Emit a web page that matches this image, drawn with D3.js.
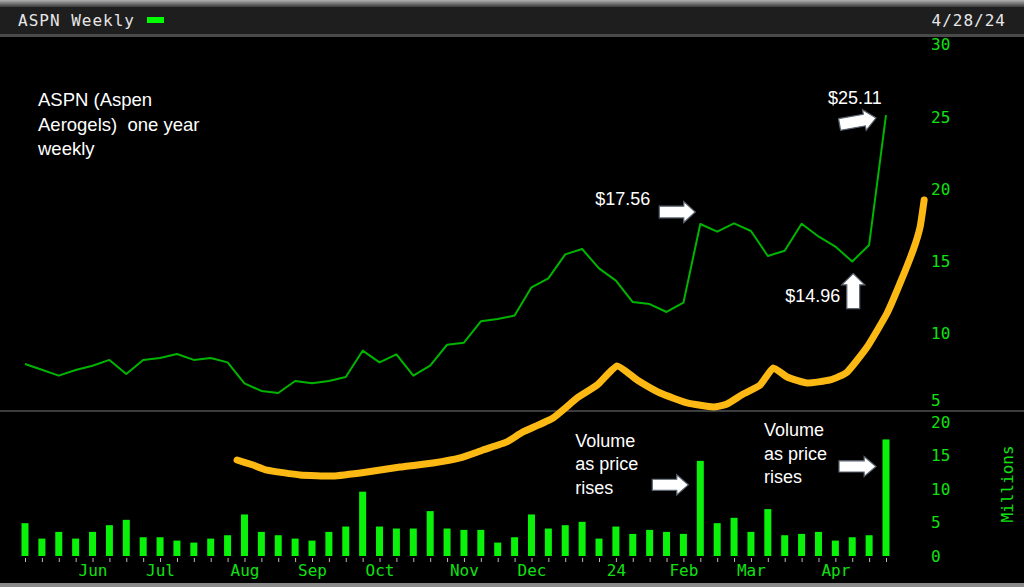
<!DOCTYPE html>
<html><head><meta charset="utf-8">
<script src="https://cdn.jsdelivr.net/npm/d3@7"></script>
<style>
html,body{margin:0;padding:0;background:#000;}
svg{display:block;}
text{white-space:pre;}
</style></head>
<body>
<svg id="chart" width="1024" height="587"></svg>
<script>
// ---- data ----
const weeks = d3.range(1, 53); // 52 weekly bars, index 1..52
const price = [7.87, 7.47, 7.06, 7.45, 7.75, 8.15, 7.17, 8.15, 8.28, 8.56,
  8.15, 8.28, 7.98, 6.53, 6.00, 5.86, 6.69, 6.53, 6.69, 6.97,
  8.79, 7.98, 8.54, 7.06, 7.75, 9.20, 9.34, 10.82, 10.98, 11.22,
  13.18, 13.80, 15.46, 15.83, 14.49, 13.64, 12.16, 12.02, 11.47, 12.11,
  17.56, 17.03, 17.61, 17.08, 15.35, 15.71, 17.58, 16.70, 16.00, 14.96, 16.11, 25.11];
const volume = [4.9, 2.6, 3.6, 2.6, 3.6, 4.6, 5.4, 2.8, 2.8, 2.3,
  2.0, 2.6, 3.1, 6.2, 3.6, 3.1, 2.6, 2.3, 3.6, 4.4,
  9.6, 4.4, 4.1, 4.1, 6.7, 4.1, 3.9, 3.9, 2.0, 2.8,
  6.2, 4.1, 4.6, 5.1, 2.6, 4.4, 3.3, 3.9, 3.6, 3.3,
  14.2, 4.9, 5.7, 3.6, 7.0, 3.1, 3.3, 3.6, 2.3, 2.8, 3.1, 17.4];
const monthLabels = ["Jun", "Jul", "Aug", "Sep", "Oct", "Nov", "Dec", "24", "Feb", "Mar", "Apr"];
const monthWeeks = [5, 9, 14, 18, 22, 27, 31, 36, 40, 44, 49];
const priceTicks = [5, 10, 15, 20, 25, 30];
const volumeTicks = [0, 5, 10, 15, 20];
// hand-drawn trend annotation (week index, price units)
const trendWeek = [13.56, 14.51, 15.34, 17.29, 19.25, 21.26, 23.22, 25.17, 26.77, 28.13,
  29.55, 30.50, 32.28, 33.70, 34.89, 36.07, 37.26, 38.62, 40.22, 41.76,
  42.59, 43.54, 44.54, 45.31, 46.14, 47.33, 48.69, 49.70, 50.88, 52.07,
  52.84, 53.61, 54.02, 54.26];
const trendValue = [1.22, 0.87, 0.52, 0.18, 0.11, 0.39, 0.73, 1.01, 1.36, 1.91,
  2.47, 3.16, 4.13, 5.51, 6.41, 7.73, 6.76, 5.86, 5.17, 4.89,
  5.10, 5.79, 6.41, 7.59, 6.97, 6.55, 6.76, 7.31, 9.04, 11.40,
  13.48, 15.76, 17.36, 19.23];
const title = "ASPN Weekly";
const dateLabel = "4/28/24";
const noteLines = ["ASPN (Aspen", "Aerogels)  one year", "weekly"];
const volNote = ["Volume", "as price", "rises"];

// ---- layout ----
const W = 1024, H = 587;
const svg = d3.select("#chart");
const mono = "'DejaVu Sans Mono', 'Liberation Mono', monospace";
const sans = "'Liberation Sans', Arial, sans-serif";
const axisGreen = "#11e011";

const x = d3.scaleLinear().domain([1, 52]).range([25, 886]);
const yP = d3.scaleLinear().domain([5, 30]).range([405.4, 44.4]);
const yV = d3.scaleLinear().domain([0, 20]).range([556, 422]);

svg.append("rect").attr("width", W).attr("height", H).attr("fill", "#000");

// title bar
const tg = svg.append("defs").append("linearGradient").attr("id", "topg")
  .attr("x1", 0).attr("x2", 0).attr("y1", 0).attr("y2", 1);
tg.append("stop").attr("offset", 0).attr("stop-color", "#b0b0b0");
tg.append("stop").attr("offset", 1).attr("stop-color", "#3a3a3a");
svg.append("rect").attr("x", 0).attr("y", 0).attr("width", W).attr("height", 7).attr("fill", "url(#topg)");
svg.append("rect").attr("x", 0).attr("y", 7).attr("width", W).attr("height", 27).attr("fill", "#1e1e1e");
svg.append("rect").attr("x", 0).attr("y", 34).attr("width", W).attr("height", 3).attr("fill", "#4a4a4a");
svg.append("text").attr("x", 18).attr("y", 26).text(title)
  .attr("fill", "#e6e6e6").attr("font-family", mono).attr("font-size", 16).attr("letter-spacing", 1);
svg.append("rect").attr("x", 147).attr("y", 17).attr("width", 17).attr("height", 6).attr("fill", "#00ff00");
svg.append("text").attr("x", 1006).attr("y", 26).attr("text-anchor", "end").text(dateLabel)
  .attr("fill", "#e6e6e6").attr("font-family", mono).attr("font-size", 16).attr("letter-spacing", 1);

// panel separator and bottom border
svg.append("rect").attr("x", 0).attr("y", 410).attr("width", W).attr("height", 2).attr("fill", "#3c3c3c");
svg.append("rect").attr("x", 0).attr("y", 583).attr("width", W).attr("height", 4).attr("fill", "#8a8a8a");

// volume bars
svg.append("g").selectAll("rect").data(weeks).join("rect")
  .attr("x", d => x(d) - 3.5).attr("width", 7)
  .attr("y", (d, i) => yV(volume[i])).attr("height", (d, i) => yV(0) - yV(volume[i]))
  .attr("fill", "#0af20a");

// week ticks
const wk = svg.append("g").attr("transform", "translate(0,558)")
  .call(d3.axisBottom(x).tickValues(weeks).tickSize(4).tickFormat(""));
wk.select(".domain").remove();
wk.selectAll("line").attr("stroke", "#bbbbbb");

// month labels
const mx = svg.append("g").attr("transform", "translate(0,561)")
  .call(d3.axisBottom(x).tickValues(monthWeeks).tickSize(0).tickPadding(5)
    .tickFormat((d, i) => monthLabels[i]));
mx.select(".domain").remove();
mx.selectAll("text").attr("fill", axisGreen).attr("font-family", mono).attr("font-size", 16)
  .attr("dy", "0.62em");

// right price axis
const pa = svg.append("g").attr("transform", "translate(928,0)")
  .call(d3.axisRight(yP).tickValues(priceTicks).tickSize(0).tickPadding(3));
pa.select(".domain").remove();
pa.selectAll("text").attr("fill", axisGreen).attr("font-family", mono).attr("font-size", 16)
  .attr("dy", d => d === 5 ? "0.0em" : "0.34em");

// right volume axis
const va = svg.append("g").attr("transform", "translate(928,0)")
  .call(d3.axisRight(yV).tickValues(volumeTicks).tickSize(0).tickPadding(3));
va.select(".domain").remove();
va.selectAll("text").attr("fill", axisGreen).attr("font-family", mono).attr("font-size", 16)
  .attr("dy", "0.34em");
svg.append("text").attr("transform", "translate(1013,484) rotate(-90)")
  .attr("text-anchor", "middle").text("Millions")
  .attr("fill", axisGreen).attr("font-family", mono).attr("font-size", 16);

// price line
svg.append("path").datum(weeks)
  .attr("d", d3.line().x(d => x(d)).y((d, i) => yP(price[i])))
  .attr("fill", "none").attr("stroke", "#00b400").attr("stroke-width", 2)
  .attr("stroke-linejoin", "round");

// orange trend annotation
svg.append("path").datum(trendWeek)
  .attr("d", d3.line().curve(d3.curveCardinal.tension(0.55)).x(d => x(d)).y((d, i) => yP(trendValue[i])))
  .attr("fill", "none").attr("stroke", "#fdb913").attr("stroke-width", 7)
  .attr("stroke-linecap", "round").attr("stroke-linejoin", "round");

// ---- annotations ----
function arrowPath(L, Hh) {
  const sh = Hh * 0.56, hl = L * 0.32;
  return `M0,${-sh/2} L${L-hl},${-sh/2} L${L-hl},${-Hh/2} L${L},0 L${L-hl},${Hh/2} L${L-hl},${sh/2} L0,${sh/2} Z`;
}
function arrow(tipX, tipY, L, Hh, angle) {
  svg.append("path").attr("d", arrowPath(L, Hh))
    .attr("transform", `translate(${tipX},${tipY}) rotate(${angle}) translate(${-L},0)`)
    .attr("fill", "#ffffff").attr("stroke", "#5a6470").attr("stroke-width", 1.2)
    .attr("stroke-linejoin", "miter");
}
function label(tx, ty, txt, size) {
  svg.append("text").attr("x", tx).attr("y", ty).text(txt)
    .attr("fill", "#ffffff").attr("font-family", sans).attr("font-size", size || 18);
}

noteLines.forEach((t, i) => label(38, 106 + i * 24.5, t, 18.5));

// $25.11 (last week)
label(x(52) - 58, yP(price[51]) - 11, "$25.11");
arrow(x(52) - 10, yP(price[51]) + 3, 37, 21, -10);
// $17.56 (week 41)
label(x(41) - 105, yP(price[40]) - 19, "$17.56");
arrow(x(41) - 5, yP(price[40]) - 12, 36, 21, 0);
// $14.96 (week 50)
label(x(50) - 67, yP(price[49]) + 40, "$14.96");
arrow(x(50) + 1, yP(price[49]) + 12, 35, 23, -90);
// volume notes
volNote.forEach((t, i) => label(x(41) - 125, yV(volume[40]) - 14 + i * 23.5, t));
arrow(x(41) - 12, yV(volume[40]) + 24, 36, 20, 0);
volNote.forEach((t, i) => label(x(52) - 122, yV(volume[51]) - 3 + i * 23.5, t));
arrow(x(52) - 10, yV(volume[51]) + 27, 37, 20, 0);
</script>
</body></html>
